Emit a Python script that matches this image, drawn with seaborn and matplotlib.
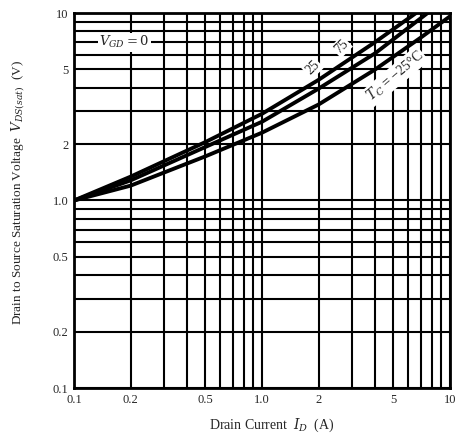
import matplotlib
matplotlib.use("Agg")
import matplotlib.pyplot as plt
from matplotlib.ticker import FixedLocator, LogLocator, NullFormatter
import numpy as np
import pandas as pd
import seaborn as sns

# curves (Id in A, Vds(sat) in V)
current_75 = [0.1, 0.2, 0.5, 1.0, 2.0, 4.0, 6.6]
vds_75 = [1.0, 1.34, 2.05, 2.9, 4.4, 7.0, 10.0]
current_25 = [0.1, 0.2, 0.5, 1.0, 2.0, 4.0, 7.6]
vds_25 = [1.0, 1.28, 1.93, 2.63, 3.95, 6.1, 10.0]
current_m25 = [0.1, 0.2, 0.5, 1.0, 2.0, 4.0, 7.0, 10.0]
vds_m25 = [1.0, 1.2, 1.72, 2.3, 3.25, 5.0, 7.4, 9.6]

x_ticks = [0.1, 0.2, 0.5, 1.0, 2, 5, 10]
x_tick_labels = ["0.1", "0.2", "0.5", "1.0", "2", "5", "10"]
y_ticks = [0.1, 0.2, 0.5, 1.0, 2, 5, 10]
y_tick_labels = ["0.1", "0.2", "0.5", "1.0", "2", "5", "10"]

df = pd.concat([
    pd.DataFrame({'I': current_75, 'V': vds_75, 'Tc': '75'}),
    pd.DataFrame({'I': current_25, 'V': vds_25, 'Tc': '25'}),
    pd.DataFrame({'I': current_m25, 'V': vds_m25, 'Tc': '-25'}),
])

# settings
sns.set_style("white")
plt.rcParams['font.family'] = ['Liberation Serif', 'DejaVu Serif']
plt.rcParams['mathtext.fontset'] = 'dejavuserif'

fig = plt.figure(figsize=(4.58, 4.40), dpi=100)
ax = fig.add_axes([74/458, 1-388/440, 376/458, 375/440])
ax.set_axisbelow(True)
sns.lineplot(data=df, x='I', y='V', hue='Tc', palette=['black']*3, legend=False,
             lw=2.8, sort=False, estimator=None, ax=ax, zorder=3)
ax.set_xscale('log')
ax.set_yscale('log')
ax.set_xlim(0.1, 10)
ax.set_ylim(0.1, 10)

ax.xaxis.set_major_locator(FixedLocator(x_ticks))
ax.set_xticklabels(x_tick_labels)
ax.yaxis.set_major_locator(FixedLocator(y_ticks))
ax.set_yticklabels(y_tick_labels)
for axis in (ax.xaxis, ax.yaxis):
    axis.set_minor_locator(LogLocator(base=10, subs=np.arange(1, 10), numticks=30))
    axis.set_minor_formatter(NullFormatter())
ax.grid(which='both', color='black', lw=1.5)
ax.tick_params(which='both', length=0, labelsize=9, pad=4)
for s in ax.spines.values():
    s.set_color('black')
    s.set_linewidth(2)
ax.set_xlabel('')
ax.set_ylabel('')

# labels on the curves: white box hides the grid but stays under the curves
box = dict(facecolor='white', edgecolor='none', pad=1)
ax.text(0.185, 7.0, '$V_{GD}=0$', fontsize=9.5, ha='center', va='center', bbox=box, zorder=2)
ax.text(1.86, 5.1, '25', fontsize=10, rotation=45, ha='center', va='center', bbox=box, zorder=2)
ax.text(2.65, 6.6, '75', fontsize=10, rotation=45, ha='center', va='center', bbox=box, zorder=2)
ax.text(5.1, 4.6, '$T_C$ = \u221225\u00b0C', fontsize=10, rotation=40, ha='center', va='center',
        bbox=box, zorder=2)

fig.text(272/458, 1-425/440, 'Drain Current  $I_D$  (A)', fontsize=10, ha='center', va='center')
fig.text(18/458, 1-193/440, 'Drain to Source Saturation Voltage  $V_{DS(sat)}$  (V)',
         fontsize=9.5, rotation=90, ha='center', va='center')

fig.savefig('out.png', dpi=100)
plt.close()
